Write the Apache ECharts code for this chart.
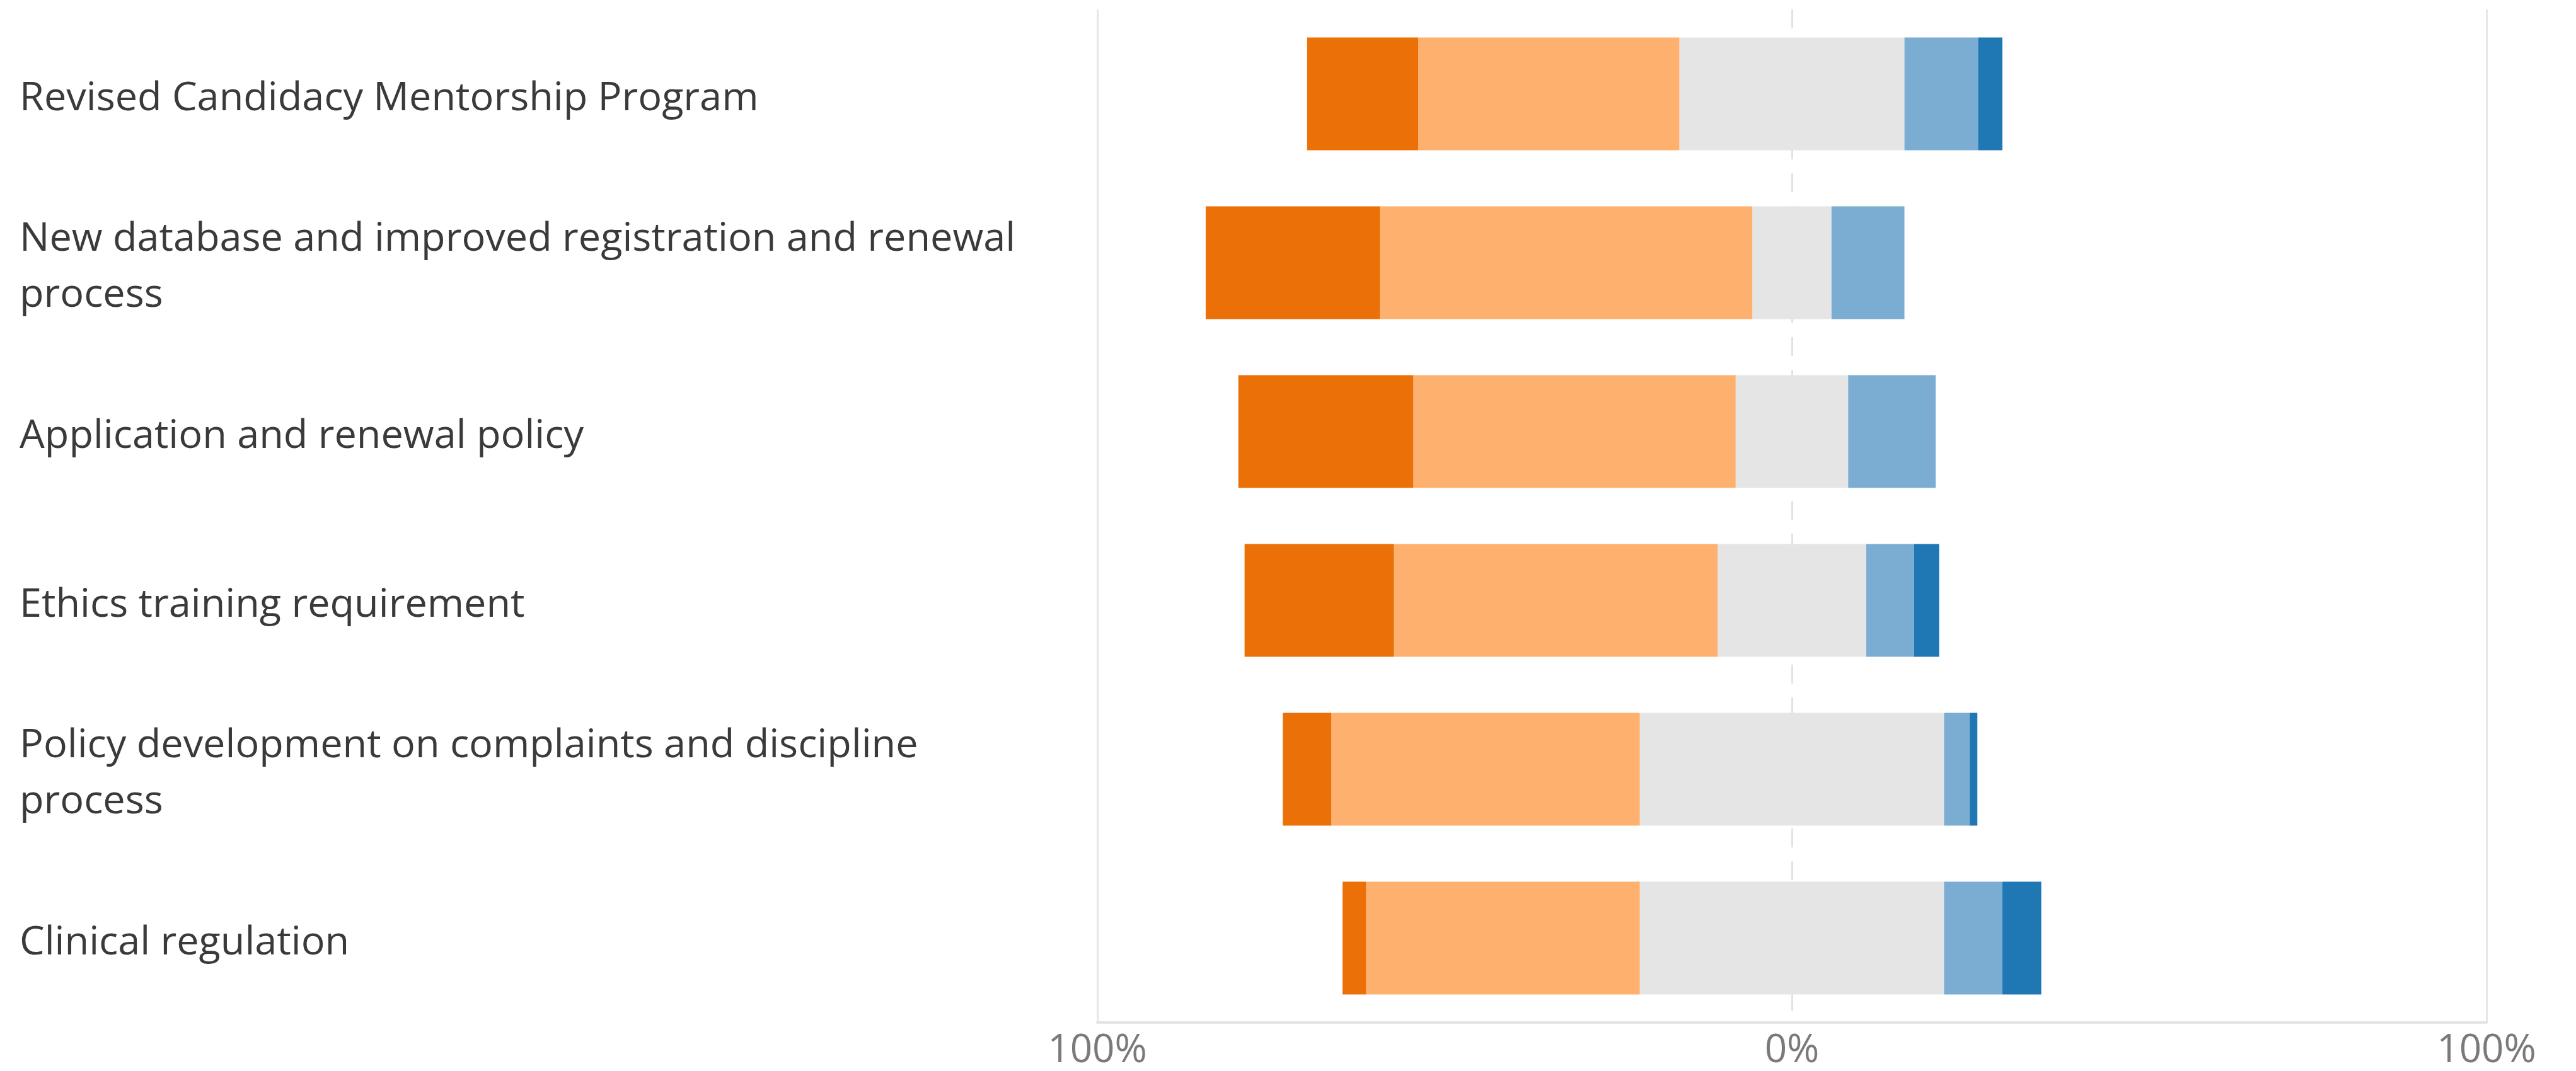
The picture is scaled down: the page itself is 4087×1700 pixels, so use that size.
<!DOCTYPE html>
<html>
<head>
<meta charset="utf-8">
<script src="https://cdn.jsdelivr.net/npm/echarts@6/dist/echarts.min.js"></script>
<style>
  html, body { margin: 0; padding: 0; background: #fff; }
  #chart1 { width: 4087px; height: 1700px; }
</style>
</head>
<body>
<div id="chart1"></div>
<script>
// survey items, top to bottom
const categories = [
  'Revised Candidacy Mentorship Program',
  'New database and improved registration and renewal\nprocess',
  'Application and renewal policy',
  'Ethics training requirement',
  'Policy development on complaints and discipline\nprocess',
  'Clinical regulation'
]
// shares in percent
const stronglyDisagree = [16.0, 25.1, 25.2, 21.5, 7.0, 3.4]
const disagree = [37.6, 53.6, 46.4, 46.6, 44.4, 39.4]
const neutral = [32.4, 11.4, 16.2, 21.4, 43.8, 43.8]
const agree = [10.6, 10.5, 12.6, 6.9, 3.7, 8.4]
const stronglyAgree = [3.5, 0, 0, 3.6, 1.1, 5.6]
const tickLabels = ['-100', '0', '100']

const chart = echarts.init(document.getElementById('chart1'))

const font = '"Open Sans", "Noto Sans", sans-serif'
const barWidth = 179
const labelText = {
  fontSize: 63,
  lineHeight: 89,
  fontFamily: font,
  color: '#3a3a3a'
}

function bar(name, data, color) {
  return {
    name: name,
    type: 'bar',
    stack: 'likert',
    barWidth: barWidth,
    itemStyle: { color: color },
    emphasis: { disabled: true },
    data: data
  }
}

chart.setOption({
  backgroundColor: '#fff',
  animation: false,
  grid: {
    left: 1741,
    right: 142,
    top: 15,
    bottom: 77
  },
  xAxis: [{
    type: 'value',
    min: -100,
    max: 100,
    interval: 100,
    axisLine: {
      show: true,
      lineStyle: { color: '#e4e4e4', width: 4 }
    },
    axisTick: { show: false },
    axisLabel: {
      margin: 14,
      fontSize: 62,
      fontFamily: font,
      color: '#7a7a7a',
      formatter: function(v) {
        return tickLabels.indexOf(String(v)) >= 0 ? Math.abs(v) + '%' : ''
      }
    },
    splitLine: {
      show: true,
      lineStyle: {
        color: ['#e6e6e6', 'rgba(0,0,0,0)', '#e6e6e6'],
        width: 3
      }
    }
  }, {
    type: 'value',
    min: -100,
    max: 100,
    interval: 100,
    position: 'top',
    axisLine: { show: false },
    axisTick: { show: false },
    axisLabel: { show: false },
    splitLine: {
      show: true,
      lineStyle: {
        color: ['rgba(0,0,0,0)', '#e2e2e2', 'rgba(0,0,0,0)'],
        width: 3,
        type: [30, 22]
      }
    }
  }],
  yAxis: {
    type: 'category',
    inverse: true,
    data: categories,
    axisLine: { show: false },
    axisTick: { show: false },
    splitLine: { show: false },
    axisLabel: Object.assign({
      align: 'left',
      margin: 1710,
      // pad each line a little so text sits at the bar centre
      formatter: function(v) {
        return v.split('\n').map(function(s) {
          return '{t|' + s + '}'
        }).join('\n')
      },
      rich: {
        t: Object.assign({ padding: [16, 0, 0, 0] }, labelText)
      }
    }, labelText)
  },
  series: [
    bar('Neutral', neutral.map(v => -v / 2), '#e5e5e5'),
    bar('Disagree', disagree.map(v => -v), '#feb16e'),
    bar('Strongly disagree', stronglyDisagree.map(v => -v), '#eb7007'),
    bar('Neutral ', neutral.map(v => v / 2), '#e5e5e5'),
    bar('Agree', agree, '#7badd2'),
    bar('Strongly agree', stronglyAgree, '#1f77b4')
  ]
})
</script>
</body>
</html>
